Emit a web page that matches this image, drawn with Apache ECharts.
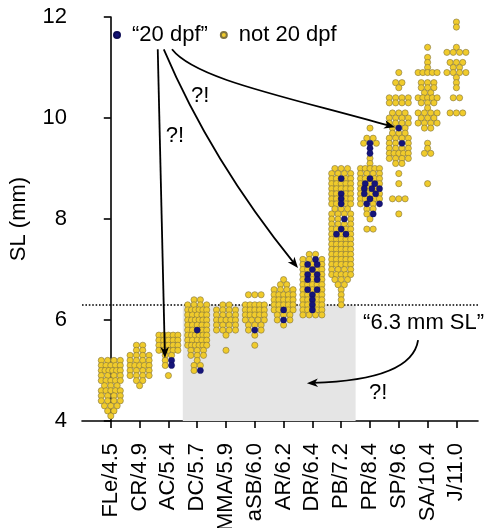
<!DOCTYPE html>
<html>
<head>
<meta charset="utf-8">
<script src="https://cdn.jsdelivr.net/npm/echarts@6/dist/echarts.min.js"></script>
<style>
  html, body { margin: 0; padding: 0; background: #fff; }
  #chart { width: 486px; height: 528px; }
</style>
</head>
<body>
<div id="chart"></div>
<script>
// Developmental stages (stage / typical SL in mm), left to right
const stages = ['FLe/4.5', 'CR/4.9', 'AC/5.4', 'DC/5.7', 'MMA/5.9', 'aSB/6.0', 'AR/6.2',
                'DR/6.4', 'PB/7.2', 'PR/8.4', 'SP/9.6', 'SA/10.4', 'J/11.0'];

// Fish not sampled at 20 dpf: per stage, rows of [SL (mm), number of fish]
const notDpf20 = [
  [[5.2,4],[5.1,5],[5.0,6],[4.9,4],[4.8,5],[4.7,3],[4.6,5],[4.5,4],[4.4,4],[4.3,3],[4.2,2],[4.1,1]],
  [[5.5,2],[5.4,2],[5.3,4],[5.2,4],[5.1,5],[5.0,4],[4.9,4],[4.8,2],[4.7,1]],
  [[5.7,5],[5.6,5],[5.5,5],[5.4,5],[5.3,2],[5.2,1],[5.1,1],[4.9,1]],
  [[6.4,2],[6.3,4],[6.2,6],[6.1,5],[6.0,6],[5.9,5],[5.8,4],[5.7,6],[5.6,5],[5.5,6],[5.4,3],[5.3,3],[5.2,1],[5.1,2],[5.0,1]],
  [[6.3,2],[6.2,4],[6.1,4],[6.0,5],[5.9,4],[5.8,4],[5.7,1],[5.4,1]],
  [[6.5,3],[6.3,5],[6.2,5],[6.1,5],[6.0,4],[5.9,3],[5.8,2],[5.7,1],[5.5,1]],
  [[6.8,1],[6.7,2],[6.6,4],[6.5,5],[6.4,5],[6.3,5],[6.2,4],[6.1,3],[6.0,2],[5.9,1]],
  [[7.3,2],[7.2,3],[7.1,3],[7.0,4],[6.9,3],[6.8,3],[6.7,5],[6.6,3],[6.5,4],[6.4,4],[6.3,4],[6.2,4],[6.1,4]],
  [[9.0,3],[8.9,4],[8.8,4],[8.7,5],[8.6,5],[8.5,4],[8.4,4],[8.3,4],[8.2,3],[8.1,4],[8.0,3],[7.9,4],[7.8,4],[7.7,3],
   [7.6,5],[7.5,5],[7.4,5],[7.3,5],[7.2,5],[7.1,5],[7.0,4],[6.9,5],[6.8,3],[6.7,2],[6.6,1],[6.5,1],[6.4,1],[6.3,1]],
  [[9.8,1],[9.6,2],[9.5,2],[9.2,1],[9.1,1],[9.0,5],[8.9,4],[8.8,4],[8.7,3],[8.6,3],[8.5,4],[8.4,4],[8.3,2],[8.2,2],[8.1,1],[8.0,1],[7.8,2]],
  [[10.9,1],[10.7,2],[10.6,1],[10.4,4],[10.3,4],[10.1,3],[10.0,4],[9.9,4],[9.8,2],[9.7,3],[9.6,4],[9.5,3],[9.4,4],[9.3,5],[9.2,4],[9.1,2],[8.9,1],[8.7,1],[8.4,3],[8.1,1]],
  [[11.4,1],[11.2,1],[11.1,1],[11.0,1],[10.9,5],[10.7,3],[10.6,3],[10.5,2],[10.4,5],[10.3,3],[10.2,1],[10.1,4],[10.0,3],[9.9,4],[9.8,2],[9.5,1],[9.4,1],[9.3,2],[8.7,1]],
  [[11.9,1],[11.8,1],[11.4,1],[11.3,4],[11.1,3],[11.0,2],[10.9,4],[10.8,1],[10.7,1],[10.6,1],[10.4,2],[10.1,3]]
];

// Fish sampled at 20 dpf: per stage, rows of [SL (mm), number of fish]
const dpf20 = [
  [], [],
  [[5.2,1],[5.1,1]],
  [[5.8,1],[5.0,1]],
  [],
  [[5.8,1]],
  [[6.2,1],[6.0,1]],
  [[7.2,1],[7.1,2],[7.0,1],[6.9,2],[6.8,2],[6.6,2],[6.5,1],[6.4,1],[6.3,1],[6.2,1]],
  [[8.8,1],[8.5,1],[8.4,1],[8.3,1],[8.0,1],[7.8,1],[7.7,2]],
  [[9.5,1],[9.4,1],[9.3,1],[8.8,1],[8.7,2],[8.6,3],[8.5,2],[8.4,1],[8.3,2],[8.1,1]],
  [[9.8,1],[9.5,1]],
  [], []
];

const yTicks = [4, 6, 8, 10, 12];
const thresholdSL = 6.3;            // "6.3 mm SL" cut-off
const shadedStages = [2.5, 8.5];    // DC .. PB band below the cut-off

const FONT = "'Liberation Sans', Arial, Helvetica, sans-serif";

// Swarm layout: fish of equal SL share a row centred on their stage
const DOT_GAP = 0.22, MAX_SPAN = 0.66;
function swarm() {
  const yellow = [], navy = [];
  stages.forEach((name, i) => {
    const rows = new Map();
    const add = (list, key) => list.forEach(([v, c]) => {
      const k = v.toFixed(2);
      if (!rows.has(k)) rows.set(k, { v: v, y: 0, n: 0 });
      rows.get(k)[key] += c;
    });
    add(notDpf20[i], 'y');
    add(dpf20[i], 'n');
    rows.forEach(r => {
      const total = r.y + r.n;
      const step = total > 1 ? Math.min(DOT_GAP, MAX_SPAN / (total - 1)) : 0;
      const navySlots = new Set();
      for (let j = 0; j < r.n; j++) {
        navySlots.add(Math.min(total - 1, Math.round((j + 0.5) * total / r.n - 0.5)));
      }
      for (let k = 0; k < total; k++) {
        const x = i + (k - (total - 1) / 2) * step;
        (navySlots.has(k) ? navy : yellow).push([x, r.v]);
      }
    });
  });
  return { yellow, navy };
}
const pts = swarm();

const chart = echarts.init(document.getElementById('chart'), null, { renderer: 'canvas' });

const axisLineStyle = { color: '#000', width: 1.6 };
chart.setOption({
  animation: false,
  backgroundColor: '#fff',
  textStyle: { fontFamily: FONT },
  grid: { left: 82, right: 8, top: 17, bottom: 107, containLabel: false, outerBoundsMode: 'none' },
  legend: {
    data: ['\u201C20 dpf\u201D', 'not 20 dpf'],
    left: 108, top: 19,
    icon: 'circle', itemWidth: 20, itemHeight: 6, itemGap: 12,
    selectedMode: false,
    textStyle: { fontSize: 22, color: '#000', fontFamily: FONT }
  },
  xAxis: {
    type: 'value', min: -1, max: 12.75,
    axisLine: { show: true, lineStyle: axisLineStyle, onZero: false },
    axisTick: { show: true, length: 7, lineStyle: axisLineStyle, customValues: stages.map((s, i) => i) },
    axisLabel: {
      customValues: stages.map((s, i) => i),
      rotate: 90, margin: 22, fontSize: 22, color: '#000', fontFamily: FONT,
      formatter: v => stages[Math.round(v)] || ''
    },
    splitLine: { show: false }
  },
  yAxis: {
    type: 'value', min: yTicks[0], max: yTicks[yTicks.length - 1], interval: 2,
    name: 'SL (mm)', nameLocation: 'middle', nameGap: 52,
    nameTextStyle: { fontSize: 22, color: '#000', fontFamily: FONT },
    axisLine: { show: true, lineStyle: axisLineStyle },
    axisTick: { show: true, length: 7, lineStyle: axisLineStyle },
    axisLabel: { fontSize: 22, color: '#000', margin: 15, fontFamily: FONT },
    splitLine: { show: false }
  },
  series: [
    {
      name: 'not 20 dpf', type: 'scatter', z: 3,
      symbol: 'circle', symbolSize: 6.2,
      itemStyle: { color: '#F0CB2B', borderColor: '#7f7240', borderWidth: 0.6, opacity: 1 },
      data: pts.yellow,
      markArea: {
        silent: true, z: 1,
        itemStyle: { color: '#e5e5e5' },
        data: [[{ xAxis: shadedStages[0], yAxis: yTicks[0] }, { xAxis: shadedStages[1], yAxis: thresholdSL }]]
      },
      markLine: {
        silent: true, z: 2, symbol: ['none', 'none'],
        label: { show: false },
        lineStyle: { type: [1.6, 1.8], color: '#000', width: 1.6 },
        data: [{ yAxis: thresholdSL }]
      }
    },
    {
      name: '\u201C20 dpf\u201D', type: 'scatter', z: 4,
      symbol: 'circle', symbolSize: 6.2,
      itemStyle: { color: '#16157A', borderColor: '#0d0c55', borderWidth: 0.4, opacity: 1 },
      data: pts.navy
    }
  ]
});

// Annotation arrows and labels, anchored in data units (stage index, SL mm)
const arrows = [
  { from: [1.63, 11.36], to: [1.88, 5.25] },
  { from: [1.84, 11.36], c1: [3.48, 9.16], to: [6.5, 7.03] },
  { from: [2.125, 11.36], c1: [2.92, 10.78], c2: [5.875, 10.45], to: [9.87, 9.815] },
  { from: [10.67, 5.60], c1: [10.46, 4.81], to: [6.81, 4.75] }
];
const notes = [
  { text: '?!', at: [2.23, 9.64], align: 'center' },
  { text: '?!', at: [3.10, 10.43], align: 'center' },
  { text: '?!', at: [9.28, 4.55], align: 'center' },
  { text: '\u201C6.3 mm SL\u201D', at: [8.76, 5.94], align: 'left' }
];

const px = p => chart.convertToPixel({ gridIndex: 0 }, p);
const graphics = [];
arrows.forEach(a => {
  const p0 = px(a.from), p3 = px(a.to);
  const c1 = a.c1 ? px(a.c1) : null, c2 = a.c2 ? px(a.c2) : null;
  const back = c2 || c1 || p0;
  const dx = p3[0] - back[0], dy = p3[1] - back[1];
  const len = Math.hypot(dx, dy), ux = dx / len, uy = dy / len;
  const L = 11, W = 4.3, N = 8;
  const end = [p3[0] - ux * 6, p3[1] - uy * 6];
  const shape = { x1: p0[0], y1: p0[1], x2: end[0], y2: end[1] };
  if (c1) { shape.cpx1 = c1[0]; shape.cpy1 = c1[1]; }
  if (c2) { shape.cpx2 = c2[0]; shape.cpy2 = c2[1]; }
  graphics.push({
    type: c1 ? 'bezierCurve' : 'line', z: 10, silent: true,
    shape: shape,
    style: { stroke: '#000', lineWidth: 1.8, fill: null }
  });
  const bx = p3[0] - ux * L, by = p3[1] - uy * L;
  graphics.push({
    type: 'polygon', z: 11, silent: true,
    shape: { points: [p3, [bx - uy * W, by + ux * W], [p3[0] - ux * N, p3[1] - uy * N], [bx + uy * W, by - ux * W]] },
    style: { fill: '#000' }
  });
});
notes.forEach(n => {
  const p = px(n.at);
  graphics.push({
    type: 'text', z: 12, silent: true,
    style: { text: n.text, x: p[0], y: p[1], fill: '#000', font: '22px ' + FONT, align: n.align, verticalAlign: 'middle' }
  });
});
chart.setOption({ graphic: graphics });
</script>
</body>
</html>
